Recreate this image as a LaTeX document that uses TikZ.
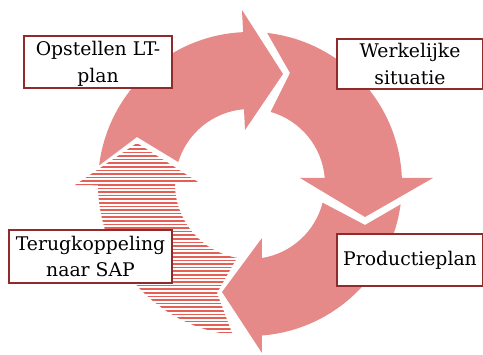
\documentclass[tikz,border=0pt]{standalone}
\usepackage{fontspec}
\setmainfont{DejaVu Serif}
\definecolor{arrowpink}{RGB}{229,137,137}
\definecolor{boxred}{RGB}{145,42,42}
\definecolor{stripered}{RGB}{228,96,86}

\begin{document}
\begin{tikzpicture}[x=1pt,y=1pt,
    every node/.style={draw=boxred,line width=2pt,fill=white,align=center,inner sep=0pt,
      font=\fontsize{18.8}{26.5}\selectfont}]
  \useasboundingbox (-250,-171) rectangle (233,184);

  % the four cycle arrows round (0,0)
  \fill[arrowpink] (173:152) arc[start angle=173, end angle=92.6, radius=152]
    -- (-8,174) -- (33,110) -- (-5,54) -- (94.6:75)
    arc[start angle=94.6, end angle=163, radius=75] -- (-113,47) -- cycle;
  \fill[arrowpink] (83.5:152) arc[start angle=83.5, end angle=2.3, radius=152]
    -- (183,6) -- (115,-33) -- (50,6) -- (4.6:75)
    arc[start angle=4.6, end angle=74, radius=75] -- (40,111) -- cycle;
  \fill[arrowpink] (-7.7:152) arc[start angle=-7.7, end angle=-85.5, radius=152]
    -- (12,-169) -- (-28,-108) -- (12,-54) -- (-80.8:75)
    arc[start angle=-80.8, end angle=-14.4, radius=75] -- (115,-41) -- cycle;
  % striped arrow
  \begin{scope}
    \clip (263.5:152) arc[start angle=263.5, end angle=180.5, radius=152]
      -- (-175,-1) -- (-113,41) -- (-52,2) -- (178.5:75)
      arc[start angle=178.5, end angle=260, radius=75] -- (-33,-109) -- cycle;
    \foreach \y in {-170,-166.4,...,45}
      \draw[stripered,line width=1.5pt] (-180,\y) -- (0,\y);
  \end{scope}

  \node[minimum width=148, minimum height=52] (LT) at (-152,122) {Opstellen LT-\\\smash{plan}};
  \node[minimum width=146, minimum height=50] (WS) at (160,120) {Werkelijke\\situatie};
  \node[minimum width=146, minimum height=52] (PP) at (160,-76) {Productieplan};
  \node[minimum width=163, minimum height=53] (SAP) at (-159.5,-72.5) {Terugkoppeling\\naar SAP};
\end{tikzpicture}
\end{document}
